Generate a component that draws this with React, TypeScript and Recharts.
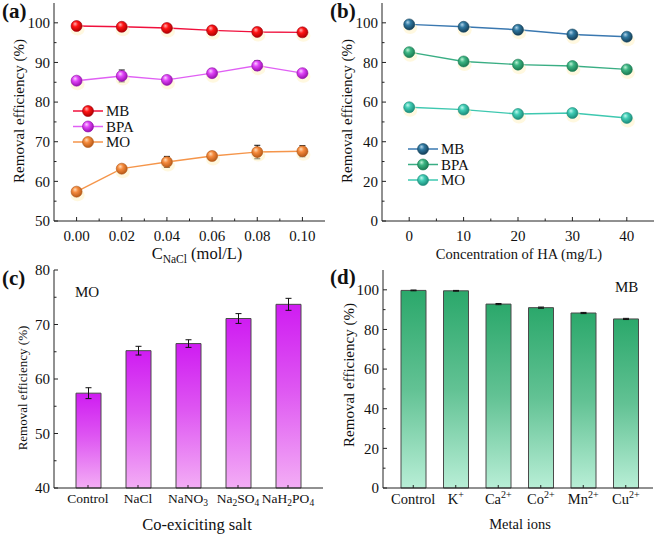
import React from 'react';
import { LineChart, Line, BarChart, Bar, XAxis, YAxis, ErrorBar, Legend } from 'recharts';

const FONT = '"Liberation Serif","Times New Roman",Times,serif';
const INK = '#111';
const AX = '#222';
const FRAME = '#555';

// ---------- (a) NaCl ----------
const naclConc = [0, 0.02, 0.04, 0.06, 0.08, 0.1];
const naclMB = [99.2, 99.0, 98.7, 98.1, 97.7, 97.6];
const naclMBErr = [0.3, 0.3, 0.3, 0.3, 0.3, 0.3];
const naclBPA = [85.4, 86.6, 85.6, 87.3, 89.2, 87.3];
const naclBPAErr = [1.0, 1.5, 0.8, 1.0, 1.2, 0.8];
const naclMO = [57.4, 63.2, 64.9, 66.4, 67.4, 67.6];
const naclMOErr = [0.9, 0.8, 1.4, 1.0, 1.7, 1.4];
const naclXTicks = [0, 0.01, 0.02, 0.03, 0.04, 0.05, 0.06, 0.07, 0.08, 0.09, 0.1];
const naclXMajor = [0, 0.02, 0.04, 0.06, 0.08, 0.1];
const naclYTicks = [50, 55, 60, 65, 70, 75, 80, 85, 90, 95, 100];
const naclYMajor = [50, 60, 70, 80, 90, 100];

// ---------- (b) HA ----------
const haConc = [0, 10, 20, 30, 40];
const haMB = [99.2, 98.0, 96.5, 94.1, 93.0];
const haMBErr = [0.6, 0.6, 0.6, 0.6, 0.6];
const haBPA = [85.2, 80.5, 78.9, 78.2, 76.5];
const haBPAErr = [0.8, 0.8, 0.8, 0.8, 0.8];
const haMO = [57.4, 56.2, 54.0, 54.5, 52.0];
const haMOErr = [0.8, 0.8, 0.8, 0.8, 0.8];
const haXTicks = [0, 5, 10, 15, 20, 25, 30, 35, 40];
const haXMajor = [0, 10, 20, 30, 40];
const haYTicks = [0, 10, 20, 30, 40, 50, 60, 70, 80, 90, 100];
const haYMajor = [0, 20, 40, 60, 80, 100];

// ---------- (c) salts ----------
const salts = ['Control', 'NaCl', 'NaNO3', 'Na2SO4', 'NaH2PO4'];
const saltMO = [57.4, 65.2, 66.5, 71.1, 73.7];
const saltMOErr = [1.0, 0.8, 0.7, 0.9, 1.1];
const saltYTicks = [40, 45, 50, 55, 60, 65, 70, 75, 80];
const saltYMajor = [40, 50, 60, 70, 80];

// ---------- (d) metal ions ----------
const ions = ['Control', 'K+', 'Ca2+', 'Co2+', 'Mn2+', 'Cu2+'];
const ionMB = [99.7, 99.5, 92.8, 91.0, 88.3, 85.3];
const ionMBErr = [0.2, 0.2, 0.3, 0.3, 0.3, 0.3];
const ionYTicks = [0, 10, 20, 30, 40, 50, 60, 70, 80, 90, 100];
const ionYMajor = [0, 20, 40, 60, 80, 100];

const naclData = naclConc.map((x, i) => ({
  x, mb: naclMB[i], mbE: naclMBErr[i], bpa: naclBPA[i], bpaE: naclBPAErr[i], mo: naclMO[i], moE: naclMOErr[i],
}));
const haData = haConc.map((x, i) => ({
  x, mb: haMB[i], mbE: haMBErr[i], bpa: haBPA[i], bpaE: haBPAErr[i], mo: haMO[i], moE: haMOErr[i],
}));
const saltData = salts.map((name, i) => ({ name, v: saltMO[i], e: saltMOErr[i] }));
const ionData = ions.map((name, i) => ({ name, v: ionMB[i], e: ionMBErr[i] }));

type Series = { key: string; err: string; name: string; line: string; grad: string; edge: string };
const seriesA: Series[] = [
  { key: 'mb', err: 'mbE', name: 'MB', line: '#f0103c', grad: 'ballRed', edge: '#a00010' },
  { key: 'bpa', err: 'bpaE', name: 'BPA', line: '#e060f4', grad: 'ballMag', edge: '#9010a8' },
  { key: 'mo', err: 'moE', name: 'MO', line: '#f5954a', grad: 'ballOra', edge: '#b05818' },
];
const seriesB: Series[] = [
  { key: 'mb', err: 'mbE', name: 'MB', line: '#3a78b0', grad: 'ballBlue', edge: '#17445e' },
  { key: 'bpa', err: 'bpaE', name: 'BPA', line: '#3aae84', grad: 'ballGreen', edge: '#1b7a52' },
  { key: 'mo', err: 'moE', name: 'MO', line: '#3ec8b0', grad: 'ballTeal', edge: '#1c8c7a' },
];

const balls: [string, string, string, string][] = [
  ['ballRed', '#ffb0b0', '#ff1414', '#b00000'],
  ['ballMag', '#fad0ff', '#e044f8', '#9a10b0'],
  ['ballOra', '#ffdcb8', '#f58a3c', '#b85a18'],
  ['ballBlue', '#b0d4ea', '#2f78a0', '#153f58'],
  ['ballGreen', '#bdf2d6', '#3cb482', '#1b7a52'],
  ['ballTeal', '#c0f8ee', '#40ccb4', '#1c8c7a'],
];

const Defs = () => (
  <svg width={0} height={0} style={{ position: 'absolute', left: 0, top: 0 }}>
    <defs>
      {balls.map(([id, hi, base, dark]) => (
        <radialGradient key={id} id={id} cx="0.42" cy="0.38" r="0.62" fx="0.36" fy="0.3">
          <stop offset="0" stopColor={hi} />
          <stop offset="0.4" stopColor={base} />
          <stop offset="1" stopColor={dark} />
        </radialGradient>
      ))}
      <linearGradient id="barMag" x1="0" y1="0" x2="0" y2="1">
        <stop offset="0" stopColor="#cf1cf2" />
        <stop offset="0.45" stopColor="#de55f2" />
        <stop offset="1" stopColor="#f3adf5" />
      </linearGradient>
      <linearGradient id="barGreen" x1="0" y1="0" x2="0" y2="1">
        <stop offset="0" stopColor="#2ba86b" />
        <stop offset="0.5" stopColor="#62c294" />
        <stop offset="1" stopColor="#b8eed6" />
      </linearGradient>
    </defs>
  </svg>
);

const Ball = ({ cx, cy, s }: { cx: number; cy: number; s: Series }) => (
  <g>
    <ellipse cx={cx + 1} cy={cy + 3.5} rx={7} ry={6} fill="#fff2c0" opacity={0.5} />
    <circle cx={cx} cy={cy} r={5.5} fill={`url(#${s.grad})`} stroke={s.edge} strokeWidth={0.6} />
  </g>
);

const yTick = (majors: number[], fs = 15) => (props: any) => {
  const { x, y, payload } = props;
  const major = majors.indexOf(payload.value) >= 0;
  return (
    <g>
      <line x1={x} y1={y} x2={x + (major ? 4 : 2.5)} y2={y} stroke={AX} strokeWidth={1} />
      {major && (
        <text x={x - 4} y={y} dy="0.36em" textAnchor="end" fontSize={fs} fontFamily={FONT} fill={INK}>
          {payload.value}
        </text>
      )}
    </g>
  );
};

const xNumTick = (majors: number[], fmt: (v: number) => string, fs = 15, dy = 20) => (props: any) => {
  const { x, y, payload } = props;
  const major = majors.some((m) => Math.abs(m - payload.value) < 1e-9);
  return (
    <g>
      <line x1={x} y1={y} x2={x} y2={y - (major ? 4 : 2.5)} stroke={AX} strokeWidth={1} />
      {major && (
        <text x={x} y={y + dy} textAnchor="middle" fontSize={fs} fontFamily={FONT} fill={INK}>
          {fmt(payload.value)}
        </text>
      )}
    </g>
  );
};

const saltTick = (props: any) => {
  const { x, y, payload } = props;
  const parts: string[] = String(payload.value).split(/(\d+)/).filter((p: string) => p.length > 0);
  return (
    <g>
      <line x1={x} y1={y} x2={x} y2={y - 3} stroke={AX} strokeWidth={1} />
      <text x={x} y={y + 15} textAnchor="middle" fontSize={13.5} fontFamily={FONT} fill={INK}>
        {parts.map((p, i) => {
          const isNum = /^\d+$/.test(p);
          const prevNum = i > 0 && /^\d+$/.test(parts[i - 1]);
          return isNum ? (
            <tspan key={i} dy={3} fontSize={9.5}>{p}</tspan>
          ) : (
            <tspan key={i} dy={prevNum ? -3 : 0}>{p}</tspan>
          );
        })}
      </text>
    </g>
  );
};

const ionTick = (props: any) => {
  const { x, y, payload } = props;
  const m = String(payload.value).match(/^([A-Za-z]+)(\d*\+)?$/);
  const base = m ? m[1] : String(payload.value);
  const sup = m && m[2] ? m[2] : '';
  return (
    <g>
      <line x1={x} y1={y} x2={x} y2={y - 3} stroke={AX} strokeWidth={1} />
      <text x={x} y={y + 16} textAnchor="middle" fontSize={14.5} fontFamily={FONT} fill={INK}>
        <tspan>{base}</tspan>
        {sup && <tspan dy={-6} fontSize={10}>{sup}</tspan>}
      </text>
    </g>
  );
};

const makeLegend = (series: Series[]) => () => (
  <svg width={80} height={50} style={{ overflow: 'visible' }}>
    {series.map((s, i) => {
      const y = 11 + i * 15.5;
      return (
        <g key={s.name}>
          <line x1={13} y1={y} x2={43} y2={y} stroke={s.line} strokeWidth={1.5} />
          <circle cx={28} cy={y} r={5.5} fill={`url(#${s.grad})`} stroke={s.edge} strokeWidth={0.6} />
          <text x={46} y={y} dy="0.36em" fontSize={15} fontFamily={FONT} fill={INK}>{s.name}</text>
        </g>
      );
    })}
  </svg>
);

const renderLines = (series: Series[]) => [
  ...series.map((s) => (
    <Line
      key={s.key}
      dataKey={s.key}
      stroke={s.line}
      strokeWidth={1.4}
      isAnimationActive={false}
      activeDot={false}
      dot={(p: any) => <Ball key={`${s.key}-${p.index}`} cx={p.cx} cy={p.cy} s={s} />}
    />
  )),
  ...series.map((s) => (
    <Line
      key={`${s.key}-err`}
      dataKey={s.key}
      stroke="none"
      dot={false}
      activeDot={false}
      legendType="none"
      isAnimationActive={false}
    >
      <ErrorBar dataKey={s.err} width={3} stroke={INK} strokeWidth={1} />
    </Line>
  )),
];

const frameAxes = (xKey: string, xType: 'number' | 'category', xDomain?: [number, number]) => [
  <XAxis
    key="fx"
    xAxisId="top"
    orientation="top"
    dataKey={xKey}
    type={xType}
    domain={xDomain}
    height={0}
    tick={false}
    tickLine={false}
    axisLine={{ stroke: FRAME }}
  />,
  <YAxis key="fy" yAxisId="right" orientation="right" width={0} tick={false} tickLine={false} axisLine={{ stroke: FRAME }} />,
];

const abs = (left: number, top: number): React.CSSProperties => ({ position: 'absolute', left, top });

const T = (props: any) => <text fontFamily={FONT} fill={INK} {...props} />;

export default function App() {
  return (
    <div style={{ position: 'absolute', left: 0, top: 0, width: 658, height: 536, background: '#fff', fontFamily: FONT }}>
      <Defs />

      {/* (a) */}
      <div style={abs(0, 0)}>
        <LineChart width={329} height={262} data={naclData} margin={{ top: 3, right: 4, left: 0, bottom: 0 }}>
          <XAxis
            dataKey="x"
            type="number"
            domain={[-0.01, 0.11]}
            ticks={naclXTicks}
            interval={0}
            tickSize={0}
            tickMargin={0}
            tickLine={false}
            height={41}
            axisLine={{ stroke: AX }}
            tick={xNumTick(naclXMajor, (v) => v.toFixed(2))}
          />
          <YAxis
            domain={[50, 105]}
            ticks={naclYTicks}
            interval={0}
            width={54}
            tickSize={0}
            tickMargin={0}
            tickLine={false}
            axisLine={{ stroke: AX }}
            tick={yTick(naclYMajor)}
          />
          {frameAxes('x', 'number', [-0.01, 0.11])}
          <Legend
            layout="vertical"
            align="center"
            verticalAlign="middle"
            content={makeLegend(seriesA)}
            wrapperStyle={{ left: 60, top: 100, width: 80, height: 50 }}
          />
          {renderLines(seriesA)}
        </LineChart>
      </div>

      {/* (b) */}
      <div style={abs(328, 0)}>
        <LineChart width={330} height={262} data={haData} margin={{ top: 3, right: 4, left: 0, bottom: 0 }}>
          <XAxis
            dataKey="x"
            type="number"
            domain={[-5, 45]}
            ticks={haXTicks}
            interval={0}
            tickSize={0}
            tickMargin={0}
            tickLine={false}
            height={41}
            axisLine={{ stroke: AX }}
            tick={xNumTick(haXMajor, (v) => String(v))}
          />
          <YAxis
            domain={[0, 110]}
            ticks={haYTicks}
            interval={0}
            width={54}
            tickSize={0}
            tickMargin={0}
            tickLine={false}
            axisLine={{ stroke: AX }}
            tick={yTick(haYMajor)}
          />
          {frameAxes('x', 'number', [-5, 45])}
          <Legend
            layout="vertical"
            align="center"
            verticalAlign="middle"
            content={makeLegend(seriesB)}
            wrapperStyle={{ left: 67, top: 138, width: 80, height: 50 }}
          />
          {renderLines(seriesB)}
        </LineChart>
      </div>

      {/* (c) */}
      <div style={abs(0, 260)}>
        <BarChart width={329} height={276} data={saltData} margin={{ top: 10, right: 6, left: 0, bottom: 0 }}>
          <XAxis
            dataKey="name"
            padding={{ left: 9, right: 10 }}
            interval={0}
            tickSize={0}
            tickMargin={0}
            tickLine={false}
            height={48}
            axisLine={{ stroke: AX }}
            tick={saltTick}
          />
          <YAxis
            domain={[40, 80]}
            ticks={saltYTicks}
            interval={0}
            width={54}
            tickSize={0}
            tickMargin={0}
            tickLine={false}
            axisLine={{ stroke: AX }}
            tick={yTick(saltYMajor)}
          />
          {frameAxes('name', 'category')}
          <Bar dataKey="v" barSize={25} fill="url(#barMag)" stroke="#4a4a4a" strokeWidth={1} isAnimationActive={false}>
            <ErrorBar dataKey="e" width={3} stroke={INK} strokeWidth={1} />
          </Bar>
        </BarChart>
      </div>

      {/* (d) */}
      <div style={abs(328, 260)}>
        <BarChart width={330} height={276} data={ionData} margin={{ top: 10, right: 5, left: 0, bottom: 0 }}>
          <XAxis
            dataKey="name"
            padding={{ left: 9, right: 6 }}
            interval={0}
            tickSize={0}
            tickMargin={0}
            tickLine={false}
            height={48}
            axisLine={{ stroke: AX }}
            tick={ionTick}
          />
          <YAxis
            domain={[0, 110]}
            ticks={ionYTicks}
            interval={0}
            width={55}
            tickSize={0}
            tickMargin={0}
            tickLine={false}
            axisLine={{ stroke: AX }}
            tick={yTick(ionYMajor)}
          />
          {frameAxes('name', 'category')}
          <Bar dataKey="v" barSize={25} fill="url(#barGreen)" stroke="#4a4a4a" strokeWidth={1} isAnimationActive={false}>
            <ErrorBar dataKey="e" width={3} stroke={INK} strokeWidth={1} />
          </Bar>
        </BarChart>
      </div>

      {/* titles & labels */}
      <svg width={658} height={536} style={{ position: 'absolute', left: 0, top: 0, pointerEvents: 'none' }}>
        <T x={2} y={18} fontSize={21} fontWeight="bold">(a)</T>
        <T x={330} y={18} fontSize={21} fontWeight="bold">(b)</T>
        <T x={2} y={285} fontSize={21} fontWeight="bold">(c)</T>
        <T x={330} y={284} fontSize={21} fontWeight="bold">(d)</T>

        <T x={0} y={0} fontSize={15} textAnchor="middle" dy="0.35em" transform="translate(19,111) rotate(-90)">Removal efficiency (%)</T>
        <T x={0} y={0} fontSize={15} textAnchor="middle" dy="0.35em" transform="translate(347,111) rotate(-90)">Removal efficiency (%)</T>
        <T x={0} y={0} fontSize={13} textAnchor="middle" dy="0.35em" transform="translate(22,388) rotate(-90)">Removal efficiency (%)</T>
        <T x={0} y={0} fontSize={15} textAnchor="middle" dy="0.35em" transform="translate(349,375) rotate(-90)">Removal efficiency (%)</T>

        <T x={197} y={259} fontSize={16.5} textAnchor="middle">
          C<tspan dy={4} fontSize={11.5}>NaCl</tspan><tspan dy={-4}> (mol/L)</tspan>
        </T>
        <T x={519} y={259} fontSize={14.5} textAnchor="middle">Concentration of HA (mg/L)</T>
        <T x={197} y={530} fontSize={16.5} textAnchor="middle">Co-exiciting salt</T>
        <T x={520} y={529} fontSize={14.5} textAnchor="middle">Metal ions</T>

        <T x={75} y={297} fontSize={15}>MO</T>
        <T x={615} y={292} fontSize={15}>MB</T>
      </svg>
    </div>
  );
}
